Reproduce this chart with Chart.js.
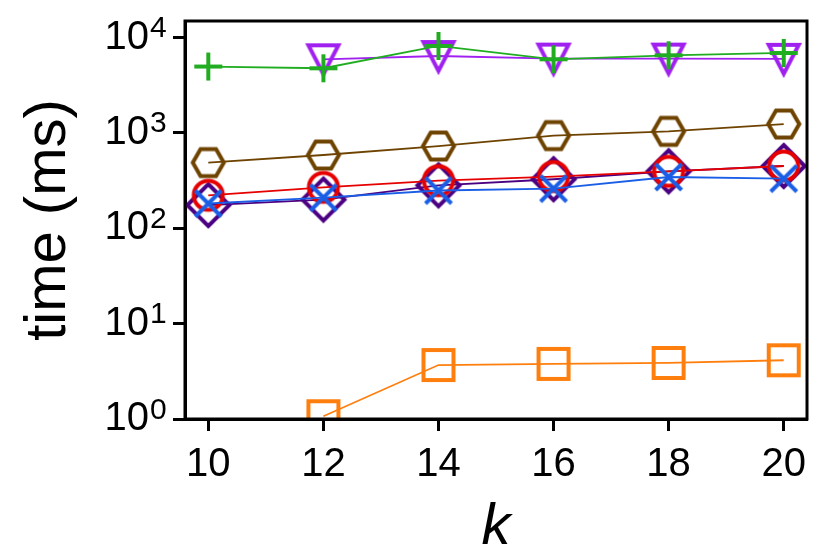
<!DOCTYPE html>
<html>
<head>
<meta charset="utf-8">
<script src="https://cdn.jsdelivr.net/npm/chart.js@4"></script>
<style>
  html, body { margin: 0; padding: 0; background: #fff; }
  #wrap { width: 830px; height: 554px; }
</style>
</head>
<body>
<div id="wrap"><canvas id="chart" width="830" height="554"></canvas></div>
<script>
/* ── data ── */
var K_VALUES  = [10, 12, 14, 16, 18, 20];
var X_TICKS   = [10, 12, 14, 16, 18, 20];
var Y_TICKS   = [1, 10, 100, 1000, 10000];
var Y_EXPONENTS = ['0', '1', '2', '3', '4'];

var plusSeries    = [4970, 4770, 8170, 5920, 6520, 6900];
var triSeries     = [null, 5920, 6410, 6020, 6020, 5990];
var hexSeries     = [489, 587, 729, 938, 1040, 1240];
var circleSeries  = [222, 269, 316, 349, 396, 450];
var diamondSeries = [175, 200, 282, 327, 396, 450];
var crossSeries   = [182, 210, 249, 261, 345, 332];
var squareSeries  = [null, 1.07, 3.68, 3.78, 3.87, 4.13];

var FONT = "'Liberation Sans', Arial, Helvetica, sans-serif";
var Y_LABEL_PAD = 24;

/* ── marker images (matplotlib-like hollow markers) ── */
function marker(kind, color) {
  var s = 52, c = document.createElement('canvas');
  c.width = s; c.height = s;
  var g = c.getContext('2d'), m = s / 2;
  g.strokeStyle = color; g.lineWidth = 4; g.lineJoin = 'miter';
  g.beginPath();
  if (kind === 'square') {
    g.rect(m - 15, m - 15, 30, 30);
  } else if (kind === 'circle') {
    g.arc(m, m, 14.5, 0, Math.PI * 2);
  } else if (kind === 'diamond') {
    g.moveTo(m, m - 21); g.lineTo(m + 21, m); g.lineTo(m, m + 21); g.lineTo(m - 21, m); g.closePath();
  } else if (kind === 'hexagon') {
    for (var i = 0; i < 6; i++) {
      var a = i * Math.PI / 3;
      var px = m + 15.5 * Math.cos(a), py = m + 15.5 * Math.sin(a);
      if (i === 0) g.moveTo(px, py); else g.lineTo(px, py);
    }
    g.closePath();
  } else if (kind === 'triDown') {
    g.moveTo(m - 15, m - 14); g.lineTo(m + 15, m - 14); g.lineTo(m, m + 15); g.closePath();
  } else if (kind === 'plus') {
    g.moveTo(m - 14, m); g.lineTo(m + 14, m);
    g.moveTo(m, m - 14); g.lineTo(m, m + 14);
  } else if (kind === 'cross') {
    g.moveTo(m - 13, m - 13); g.lineTo(m + 13, m + 13);
    g.moveTo(m + 13, m - 13); g.lineTo(m - 13, m + 13);
  }
  g.stroke();
  return c;
}

function pts(vals) {
  return K_VALUES.map(function (k, i) { return { x: k, y: vals[i] }; });
}

function series(vals, color, kind) {
  return {
    data: pts(vals),
    borderColor: color,
    backgroundColor: color,
    borderWidth: 1.8,
    pointStyle: marker(kind, color),
    pointRadius: 18,
    pointHoverRadius: 18,
    tension: 0,
    spanGaps: false
  };
}

/* first entry is drawn on top */
var datasets = [
  series(crossSeries,   '#1a5ee6', 'cross'),
  series(circleSeries,  '#e60000', 'circle'),
  series(diamondSeries, '#4b0082', 'diamond'),
  series(squareSeries,  '#ff7f0e', 'square'),
  series(hexSeries,     '#6e4300', 'hexagon'),
  series(plusSeries,    '#21ad21', 'plus'),
  series(triSeries,     '#a020f0', 'triDown')
];

/* ── frame around the plot area + exponents of the y tick labels ── */
var framePlugin = {
  id: 'frame',
  afterDatasetsDraw: function (chart) {
    var a = chart.chartArea, c = chart.ctx;
    c.save();
    c.strokeStyle = '#000';
    c.lineWidth = 3;
    c.strokeRect(a.left, a.top, a.right - a.left, a.bottom - a.top);
    c.restore();
  },
  afterDraw: function (chart) {
    var y = chart.scales.y, c = chart.ctx;
    var x0 = y.right - 12 - Y_LABEL_PAD;
    c.save();
    c.fillStyle = '#000';
    c.font = '30px ' + FONT;
    c.textAlign = 'left';
    c.textBaseline = 'alphabetic';
    Y_TICKS.forEach(function (v, i) {
      c.fillText(Y_EXPONENTS[i], x0 + 1, y.getPixelForValue(v) - 0.5);
    });
    c.restore();
  }
};

new Chart(document.getElementById('chart'), {
  type: 'line',
  data: { datasets: datasets },
  plugins: [framePlugin],
  options: {
    responsive: false,
    animation: false,
    devicePixelRatio: 1,
    layout: { padding: { left: 0, right: 23, top: 21, bottom: 0 } },
    plugins: { legend: { display: false }, tooltip: { enabled: false } },
    scales: {
      x: {
        type: 'linear',
        min: 9.595, max: 20.405,
        afterBuildTicks: function (s) { s.ticks = X_TICKS.map(function (v) { return { value: v }; }); },
        afterFit: function (s) { s.height = 135; s.paddingLeft = 0; s.paddingRight = 0; },
        grid: { drawOnChartArea: false, drawTicks: true, tickLength: 12, tickWidth: 3, tickColor: '#000' },
        border: { display: true, color: '#000', width: 3 },
        ticks: { color: '#000', padding: 10, maxRotation: 0, font: { family: FONT, size: 40 } },
        title: { display: true, text: 'k', color: '#000', padding: { top: 0, bottom: 0 },
                 font: { family: FONT, size: 58, style: 'italic', lineHeight: 0.9 } }
      },
      y: {
        type: 'logarithmic',
        min: 1, max: 14930,
        afterBuildTicks: function (s) { s.ticks = Y_TICKS.map(function (v) { return { value: v, major: true }; }); },
        afterFit: function (s) { s.width = 185; s.paddingTop = 0; s.paddingBottom = 0; },
        grid: { drawOnChartArea: false, drawTicks: true, tickLength: 12, tickWidth: 3, tickColor: '#000' },
        border: { display: true, color: '#000', width: 3 },
        ticks: {
          color: '#000', padding: Y_LABEL_PAD, font: { family: FONT, size: 40 },
          callback: function (v) { return Y_TICKS.indexOf(v) >= 0 ? '10' : ''; }
        },
        title: { display: true, text: 'time (ms)', color: '#000', padding: { top: 14, bottom: 0 },
                 font: { family: FONT, size: 58, lineHeight: 1.2 } }
      }
    }
  }
});
</script>
</body>
</html>
